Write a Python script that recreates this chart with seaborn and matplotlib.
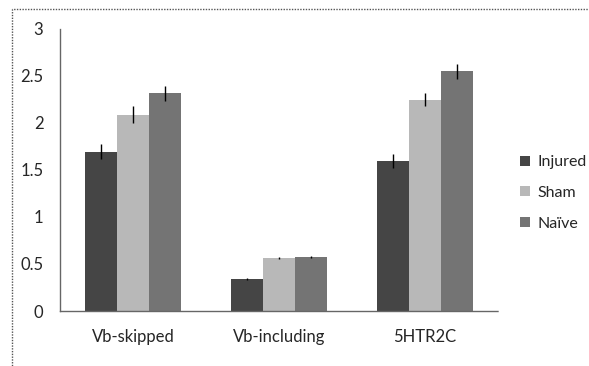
import matplotlib
matplotlib.use("Agg")
import matplotlib.pyplot as plt
import seaborn as sns
import pandas as pd
from matplotlib.patches import Rectangle, Patch

categories = ["Vb-skipped", "Vb-including", "5HTR2C"]
groups = ["Injured", "Sham", "Naïve"]
injured = [1.69, 0.34, 1.59]
sham = [2.08, 0.565, 2.24]
naive = [2.31, 0.57, 2.54]
injured_err = [0.08, 0.01, 0.07]
sham_err = [0.09, 0.01, 0.07]
naive_err = [0.08, 0.01, 0.08]
colors = ["#454545", "#b8b8b8", "#747474"]

rows = []
for g, vals in zip(groups, [injured, sham, naive]):
    for c, v in zip(categories, vals):
        rows.append({"cat": c, "group": g, "value": v})
df = pd.DataFrame(rows)
errs = [injured_err, sham_err, naive_err]

sns.set_style("white")
plt.rcParams["font.family"] = ["Lato", "DejaVu Sans"]

fig = plt.figure(figsize=(5.89, 3.66), dpi=100)
ax = fig.add_axes([60/589, 55/366, 438/589, 283/366])
sns.barplot(data=df, x="cat", y="value", hue="group", hue_order=groups,
            order=categories, palette=colors, width=0.66, gap=0,
            errorbar=None, ax=ax, linewidth=0, saturation=1)

for cont, e in zip(ax.containers, errs):
    xs = [b.get_x() + b.get_width() / 2 for b in cont]
    ys = [b.get_height() for b in cont]
    ax.errorbar(xs, ys, yerr=e, fmt="none", ecolor="black", elinewidth=1, capsize=0)

ax.set_ylim(0, 3)
ax.set_xlim(-0.5, 2.5)
ax.set_yticks([0, 0.5, 1, 1.5, 2, 2.5, 3])
ax.set_yticklabels(["0", "0.5", "1", "1.5", "2", "2.5", "3"], fontsize=12)
ax.set_xticks(range(3))
ax.set_xticklabels(categories, fontsize=12)
ax.set_xticks([0.5, 1.5, 2.5], minor=True)
ax.tick_params(axis="x", which="major", length=0, pad=13)
ax.tick_params(axis="x", which="minor", length=4, direction="out", color="#777777", width=0.8)
ax.tick_params(axis="y", length=3, direction="out", color="#777777", width=0.8, pad=9)
ax.set_xlabel("")
ax.set_ylabel("")
for s in ["top", "right"]:
    ax.spines[s].set_visible(False)
for s in ["left", "bottom"]:
    ax.spines[s].set_linestyle((0, (1, 1)))
    ax.spines[s].set_color("#666666")
    ax.spines[s].set_linewidth(1)

if ax.get_legend():
    ax.get_legend().remove()
handles = [Patch(facecolor=c, edgecolor="none") for c in colors]
fig.legend(handles, groups, loc="center left", bbox_to_anchor=(520/589, 1 - 193/366),
           frameon=False, fontsize=11.5, handlelength=0.6, handleheight=0.6,
           handletextpad=0.5, labelspacing=1.05, borderpad=0, borderaxespad=0)

fig.patches.append(Rectangle((12/589, -0.05), 1.1, 1 - 9/366 + 0.05,
                             transform=fig.transFigure, fill=False, clip_on=False,
                             linestyle=(0, (1, 1)), edgecolor="#555555", linewidth=1))

fig.savefig("out.png", dpi=100)
